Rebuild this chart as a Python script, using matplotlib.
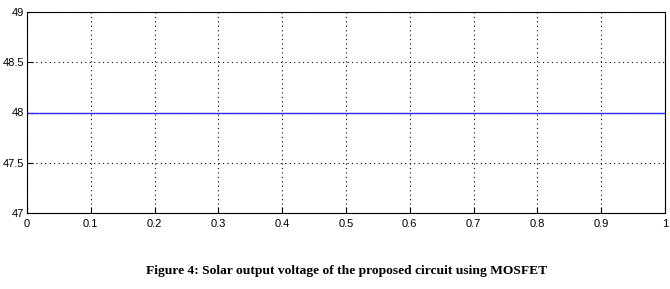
import matplotlib
matplotlib.use("Agg")
import matplotlib.pyplot as plt
import numpy as np

# simulation output: constant solar voltage
timeValues = [0.0, 1.0]
voltageValues = [48.0, 48.0]

xTicks = [0, 0.1, 0.2, 0.3, 0.4, 0.5, 0.6, 0.7, 0.8, 0.9, 1]
xTickLabels = ["0", "0.1", "0.2", "0.3", "0.4", "0.5", "0.6", "0.7", "0.8", "0.9", "1"]
yTicks = [47, 47.5, 48, 48.5, 49]
yTickLabels = ["47", "47.5", "48", "48.5", "49"]
caption = "Figure 4: Solar output voltage of the proposed circuit using MOSFET"

fig = plt.figure(figsize=(6.7, 2.89), dpi=100)
ax = fig.add_axes([27/670, 1 - 213/289, (665-27)/670, (213-12)/289])

ax.plot(timeValues, voltageValues, color="#2a2aff", linewidth=1.0)
ax.set_xlim(0, 1)
ax.set_ylim(47, 49)
ax.set_xticks(xTicks)
ax.set_xticklabels(xTickLabels)
ax.set_yticks(yTicks)
ax.set_yticklabels(yTickLabels)
ax.tick_params(direction="in", length=4, labelsize=8, colors="black", pad=2)
for lbl in ax.get_xticklabels() + ax.get_yticklabels():
    lbl.set_family("Liberation Sans")
ax.tick_params(axis="x", pad=4)
ax.grid(True, color="black", linestyle=(0, (1, 3)), linewidth=0.8)
for s in ax.spines.values():
    s.set_linewidth(0.8)

fig.text(347/670, 1 - 271/289, caption, ha="center", va="center",
         family="Liberation Serif", fontweight="bold", fontsize=9.7)

fig.savefig("out.png", dpi=100)
